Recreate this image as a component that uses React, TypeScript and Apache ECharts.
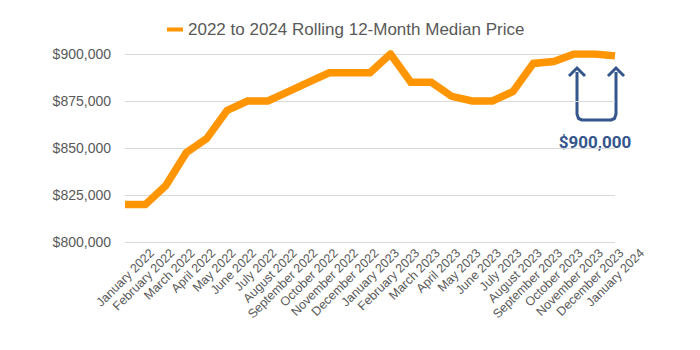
import React, { useEffect, useRef } from "react";
import * as echarts from "echarts";

const categories = [
  "January 2022", "February 2022", "March 2022", "April 2022", "May 2022", "June 2022",
  "July 2022", "August 2022", "September 2022", "October 2022", "November 2022", "December 2022",
  "January 2023", "February 2023", "March 2023", "April 2023", "May 2023", "June 2023",
  "July 2023", "August 2023", "September 2023", "October 2023", "November 2023", "December 2023",
  "January 2024",
];

const medianPrice = [
  820000, 820000, 830000, 847500, 855000, 870000,
  875000, 875000, 880000, 885000, 890000, 890000,
  890000, 900000, 885000, 885000, 877500, 875000,
  875000, 880000, 895000, 896000, 900000, 900000,
  899000,
];

const seriesName = "2022 to 2024 Rolling 12-Month Median Price";
const annotationText = "$900,000";

const yMin = 800000;
const yMax = 900000;
const yInterval = 25000;

export default function App() {
  const ref = useRef<HTMLDivElement>(null);

  useEffect(() => {
    if (!ref.current) return;
    const chart = echarts.init(ref.current, null, { renderer: "svg" });
    const blue = "#34568C";
    const grey = "#595959";
    chart.setOption({
      animation: false,
      textStyle: { fontFamily: "Liberation Sans, Arial, sans-serif" },
      legend: {
        left: 162,
        top: 16,
        icon: "rect",
        itemWidth: 16,
        itemHeight: 4,
        itemGap: 10,
        textStyle: { color: grey, fontSize: 17, fontFamily: "Liberation Sans, Arial, sans-serif" },
        data: [seriesName],
      },
      grid: [
        { left: 125, right: 85, top: 54, bottom: 108, containLabel: false },
        { left: 152, right: 58, top: 54, bottom: 108, containLabel: false },
      ],
      xAxis: [
        {
          type: "category",
          gridIndex: 0,
          data: categories,
          boundaryGap: false,
          axisLine: { show: false },
          axisTick: { show: false },
          axisLabel: { show: false },
        },
        {
          type: "category",
          gridIndex: 1,
          data: categories,
          boundaryGap: false,
          axisLine: { show: false },
          axisTick: { show: false },
          axisLabel: {
            show: true,
            interval: 0,
            rotate: 45,
            margin: 9,
            color: grey,
            fontSize: 12.5,
            fontFamily: "Liberation Sans, Arial, sans-serif",
          },
        },
      ],
      yAxis: [
        {
          type: "value",
          gridIndex: 0,
          min: yMin,
          max: yMax,
          interval: yInterval,
          axisLine: { show: false },
          axisTick: { show: false },
          splitLine: { lineStyle: { color: "#D9D9D9", width: 1 } },
          axisLabel: {
            margin: 14,
            color: grey,
            fontSize: 14,
            fontFamily: "Liberation Sans, Arial, sans-serif",
            formatter: (v: number) => "$" + v.toLocaleString("en-US"),
          },
        },
        {
          type: "value",
          gridIndex: 1,
          min: yMin,
          max: yMax,
          show: false,
        },
      ],
      series: [
        {
          name: seriesName,
          type: "line",
          xAxisIndex: 0,
          yAxisIndex: 0,
          data: medianPrice,
          showSymbol: false,
          symbol: "none",
          itemStyle: { color: "#FF9500" },
          lineStyle: { color: "#FF9500", width: 7.5, join: "miter" },
        },
      ],
      graphic: [
        {
          type: "polyline",
          shape: {
            points: [
              [577, 72], [577, 114], [578.5, 118.5], [582, 120],
              [611, 120], [614.5, 118.5], [616, 114], [616, 72],
            ],
          },
          style: { stroke: blue, lineWidth: 3, fill: null, lineJoin: "round" },
        },
        {
          type: "polyline",
          shape: { points: [[569, 76], [577, 68], [585, 76]] },
          style: { stroke: blue, lineWidth: 3, fill: null, lineJoin: "miter" },
        },
        {
          type: "polyline",
          shape: { points: [[608, 76], [616, 68], [624, 76]] },
          style: { stroke: blue, lineWidth: 3, fill: null, lineJoin: "miter" },
        },
        {
          type: "text",
          x: 595,
          y: 142,
          style: {
            text: annotationText,
            fill: blue,
            font: "bold 17px Roboto, sans-serif",
            align: "center",
            verticalAlign: "middle",
          },
        },
      ],
    });
    return () => chart.dispose();
  }, []);

  return <div ref={ref} style={{ width: 700, height: 350, margin: -8 }} />;
}
